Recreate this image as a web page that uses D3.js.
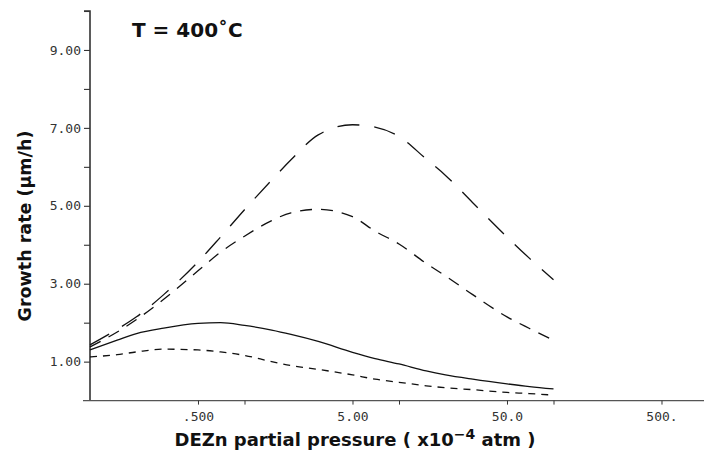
<!DOCTYPE html>
<html>
<head>
<meta charset="utf-8">
<script src="https://cdn.jsdelivr.net/npm/d3@7"></script>
<style>
  body { margin: 0; background: #fff; }
  svg { display: block; }
</style>
</head>
<body>
<svg id="chart" width="704" height="459"></svg>
<script>
// DEZn partial pressure (x10^-4 atm), shared x grid
const pressure = [0.1, 0.15, 0.2, 0.3, 0.5, 0.7, 1, 1.5, 2, 3, 5, 7, 10, 15, 20, 30, 50, 70, 100];
// growth rate (um/h) per curve
const longDash  = [1.43, 1.83, 2.15, 2.72, 3.56, 4.2, 4.9, 5.66, 6.18, 6.82, 7.08, 7.02, 6.78, 6.2, 5.78, 5.08, 4.2, 3.65, 3.1];
const midDash   = [1.38, 1.76, 2.08, 2.6, 3.33, 3.81, 4.22, 4.62, 4.82, 4.91, 4.72, 4.35, 4.02, 3.52, 3.2, 2.72, 2.15, 1.85, 1.55];
const solid     = [1.30, 1.55, 1.72, 1.86, 1.98, 2.0, 1.93, 1.81, 1.7, 1.52, 1.24, 1.08, 0.94, 0.76, 0.66, 0.55, 0.43, 0.36, 0.30];
const shortDash = [1.12, 1.18, 1.25, 1.32, 1.3, 1.25, 1.16, 1.0, 0.9, 0.8, 0.66, 0.55, 0.47, 0.38, 0.33, 0.28, 0.21, 0.18, 0.14];

const yTickLabels = [1, 3, 5, 7, 9];
const yMinorTicks = [2, 4, 6, 8, 10];
const xTickLabels = [0.5, 5, 50, 500];
const xMinorTicks = [1, 10, 100];

const svg = d3.select("svg#chart");

const x = d3.scaleLog().domain([0.1, 1000]).range([90, 708]);
const y = d3.scaleLinear().domain([0, 10]).range([400.6, 11]);

const monoFont = "'DejaVu Sans Mono', monospace";
const boldFont = "'DejaVu Sans', 'Liberation Sans', sans-serif";

// y axis
const yAxis = d3.axisLeft(y)
    .tickValues(yTickLabels.concat(yMinorTicks))
    .tickSize(6)
    .tickFormat(d => yTickLabels.includes(d) ? d3.format(".2f")(d) : "");
const gy = svg.append("g")
    .attr("transform", "translate(90,0)")
    .call(yAxis);
gy.select(".domain").attr("d", "M-6,11H0V400.6").attr("stroke", "#333").attr("stroke-width", 1.6);
gy.selectAll(".tick line").attr("stroke", "#333").attr("stroke-width", 1.1);
gy.selectAll(".tick text")
    .attr("x", -9)
    .attr("font-family", monoFont)
    .attr("font-size", 13)
    .attr("fill", "#333");

// x axis
const xAxis = d3.axisBottom(x)
    .tickValues(xTickLabels.concat(xMinorTicks))
    .tickSize(4)
    .tickFormat(d => {
      if (d === 0.5) return ".500";
      if (d === 5) return "5.00";
      if (d === 50) return "50.0";
      if (d === 500) return "500.";
      return "";
    });
const gx = svg.append("g")
    .attr("transform", "translate(0,400.6)")
    .call(xAxis);
gx.select(".domain").attr("d", "M83,0H704").attr("stroke", "#555").attr("stroke-width", 1.2);
gx.selectAll(".tick line").attr("stroke", "#333");
gx.selectAll(".tick text")
    .attr("y", 11)
    .attr("font-family", monoFont)
    .attr("font-size", 13)
    .attr("fill", "#333");

// curves
const series = [
  { values: longDash,  dash: "22,15" },
  { values: midDash,   dash: "12,9" },
  { values: solid,     dash: null },
  { values: shortDash, dash: "7,6" }
];

const line = d3.line()
    .x(d => x(d[0]))
    .y(d => y(d[1]))
    .curve(d3.curveMonotoneX);

svg.append("g")
    .selectAll("path")
    .data(series)
    .enter().append("path")
      .attr("d", s => line(pressure.map((p, i) => [p, s.values[i]])))
      .attr("fill", "none")
      .attr("stroke", "#111")
      .attr("stroke-width", 1.3)
      .attr("stroke-dasharray", s => s.dash);

// title
svg.append("text")
    .attr("x", 132)
    .attr("y", 37)
    .attr("font-family", boldFont)
    .attr("font-weight", "bold")
    .attr("font-size", 20)
    .attr("fill", "#111")
    .text("T = 400˚C");

// y label
svg.append("text")
    .attr("transform", "translate(31,226) rotate(-90)")
    .attr("text-anchor", "middle")
    .attr("font-family", boldFont)
    .attr("font-weight", "bold")
    .attr("font-size", 17.5)
    .attr("fill", "#111")
    .text("Growth rate (μm/h)");

// x label
const xl = svg.append("text")
    .attr("x", 355)
    .attr("y", 446)
    .attr("text-anchor", "middle")
    .attr("font-family", boldFont)
    .attr("font-weight", "bold")
    .attr("font-size", 18)
    .attr("fill", "#111");
xl.append("tspan").text("DEZn partial pressure ( x10");
xl.append("tspan").attr("dy", -7).attr("font-size", 14).text("−4");
xl.append("tspan").attr("dy", 7).text(" atm )");
</script>
</body>
</html>
